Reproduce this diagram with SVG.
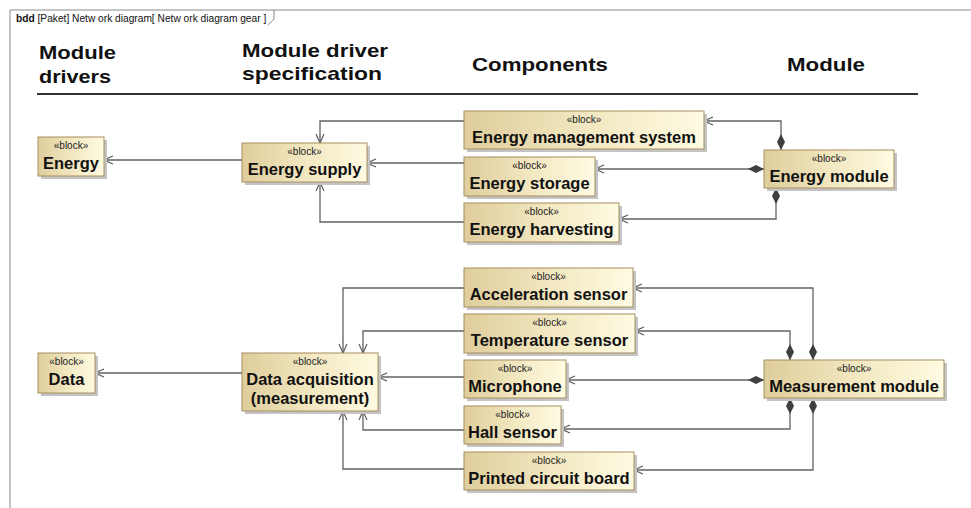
<svg xmlns="http://www.w3.org/2000/svg" width="971" height="508" viewBox="0 0 971 508">
<defs>
<linearGradient id="fillg" x1="0" y1="0" x2="1" y2="0">
<stop offset="0" stop-color="#dfcd9c"/>
<stop offset="0.55" stop-color="#f3e9c3"/>
<stop offset="1" stop-color="#fffbe2"/>
</linearGradient>
<marker id="arr" viewBox="0 0 10 10" refX="10" refY="5" markerWidth="10" markerHeight="10" markerUnits="userSpaceOnUse" orient="auto">
<path d="M1,1 L10,5 L1,9" fill="none" stroke="#5e5e5e" stroke-width="1.2"/>
</marker>
<marker id="dia" viewBox="0 0 16 8" refX="0" refY="4" markerWidth="16" markerHeight="8" markerUnits="userSpaceOnUse" orient="auto">
<path d="M0,4 L8,0 L16,4 L8,8 Z" fill="#3f3f3f"/>
</marker>
<style>
.frame{fill:none;stroke:#8a8a8a;stroke-width:1}
.tab{font-family:"Liberation Sans",Arial,sans-serif;font-size:10.2px;fill:#111}
.hdr{font-family:"Liberation Sans",Arial,sans-serif;font-size:19px;font-weight:bold;fill:#111}
.shadow{fill:#c4c4c4}
.box{fill:url(#fillg);stroke:#a68e5e;stroke-width:1}
.st{font-family:"Liberation Sans",Arial,sans-serif;font-size:10px;fill:#222;text-anchor:middle}
.nm{font-family:"Liberation Sans",Arial,sans-serif;font-size:16.5px;font-weight:bold;fill:#111;text-anchor:middle}
.c{fill:none;stroke:#616161;stroke-width:1.3}
.ca{marker-end:url(#arr)}
.cd{marker-start:url(#dia)}
</style>
</defs>
<rect x="0" y="0" width="971" height="508" fill="#ffffff"/>
<g id="frame">
<path class="frame" d="M10,508 V10 H971"/>
<path class="frame" d="M274,10 V19 L268,25"/>
<text class="tab" x="16" y="22"><tspan font-weight="bold">bdd</tspan> [Paket] Netw ork diagram[ Netw ork diagram gear ]</text>
</g>
<g id="headers">
<text class="hdr" x="39" y="59" textLength="77" lengthAdjust="spacingAndGlyphs">Module</text>
<text class="hdr" x="39" y="83" textLength="72" lengthAdjust="spacingAndGlyphs">drivers</text>
<text class="hdr" x="242" y="57" textLength="146" lengthAdjust="spacingAndGlyphs">Module driver</text>
<text class="hdr" x="242" y="80" textLength="140" lengthAdjust="spacingAndGlyphs">specification</text>
<text class="hdr" x="472" y="71" textLength="136" lengthAdjust="spacingAndGlyphs">Components</text>
<text class="hdr" x="787" y="71" textLength="78" lengthAdjust="spacingAndGlyphs">Module</text>
<line x1="37" y1="94" x2="918" y2="94" stroke="#333" stroke-width="2.2"/>
</g>
<g id="connectors">
<path class="c cd ca" d="M781,150 V121 H704"/>
<path class="c cd ca" d="M764,169 H595"/>
<path class="c cd ca" d="M776,188 V219 H619"/>
<path class="c ca" d="M464,121 H320 V143"/>
<path class="c ca" d="M464,163 H367"/>
<path class="c ca" d="M464,222 H320 V182"/>
<path class="c ca" d="M242,160 H104"/>
<path class="c cd ca" d="M813,360 V288 H633"/>
<path class="c cd ca" d="M790,360 V331 H635"/>
<path class="c cd ca" d="M764,380 H566"/>
<path class="c cd ca" d="M790,398 V429 H561"/>
<path class="c cd ca" d="M813,398 V470 H634"/>
<path class="c ca" d="M464,288 H343 V353"/>
<path class="c ca" d="M464,331 H363 V353"/>
<path class="c ca" d="M464,377 H378"/>
<path class="c ca" d="M464,430 H363 V411"/>
<path class="c ca" d="M464,469 H343 V411"/>
<path class="c ca" d="M242,373 H95"/>
</g>
<g id="energy">
<rect class="shadow" x="41" y="140" width="66" height="39"/>
<rect class="box" x="38" y="137" width="66" height="39"/>
<text class="st" x="71" y="149">«block»</text>
<text class="nm" x="71" y="169">Energy</text>
</g>
<g id="energy-supply">
<rect class="shadow" x="245" y="146" width="125" height="39"/>
<rect class="box" x="242" y="143" width="125" height="39"/>
<text class="st" x="304.5" y="155">«block»</text>
<text class="nm" x="304.5" y="175">Energy supply</text>
</g>
<g id="energy-management-system">
<rect class="shadow" x="467" y="114" width="240" height="38"/>
<rect class="box" x="464" y="111" width="240" height="38"/>
<text class="st" x="584" y="123">«block»</text>
<text class="nm" x="584" y="143">Energy management system</text>
</g>
<g id="energy-storage">
<rect class="shadow" x="467" y="160" width="131" height="39"/>
<rect class="box" x="464" y="157" width="131" height="39"/>
<text class="st" x="529.5" y="169">«block»</text>
<text class="nm" x="529.5" y="189">Energy storage</text>
</g>
<g id="energy-harvesting">
<rect class="shadow" x="467" y="206" width="155" height="39"/>
<rect class="box" x="464" y="203" width="155" height="39"/>
<text class="st" x="541.5" y="215">«block»</text>
<text class="nm" x="541.5" y="235">Energy harvesting</text>
</g>
<g id="energy-module">
<rect class="shadow" x="767" y="153" width="130" height="38"/>
<rect class="box" x="764" y="150" width="130" height="38"/>
<text class="st" x="829" y="162">«block»</text>
<text class="nm" x="829" y="182">Energy module</text>
</g>
<g id="data">
<rect class="shadow" x="41" y="356" width="57" height="40"/>
<rect class="box" x="38" y="353" width="57" height="40"/>
<text class="st" x="66.5" y="365">«block»</text>
<text class="nm" x="66.5" y="385">Data</text>
</g>
<g id="data-acquisition">
<rect class="shadow" x="245" y="356" width="136" height="58"/>
<rect class="box" x="242" y="353" width="136" height="58"/>
<text class="st" x="310" y="365">«block»</text>
<text class="nm" x="310" y="385">Data acquisition</text>
<text class="nm" x="310" y="404">(measurement)</text>
</g>
<g id="acceleration-sensor">
<rect class="shadow" x="467" y="271" width="169" height="39"/>
<rect class="box" x="464" y="268" width="169" height="39"/>
<text class="st" x="548.5" y="280">«block»</text>
<text class="nm" x="548.5" y="300">Acceleration sensor</text>
</g>
<g id="temperature-sensor">
<rect class="shadow" x="467" y="317" width="171" height="39"/>
<rect class="box" x="464" y="314" width="171" height="39"/>
<text class="st" x="549.5" y="326">«block»</text>
<text class="nm" x="549.5" y="346">Temperature sensor</text>
</g>
<g id="microphone">
<rect class="shadow" x="467" y="363" width="102" height="38"/>
<rect class="box" x="464" y="360" width="102" height="38"/>
<text class="st" x="515" y="372">«block»</text>
<text class="nm" x="515" y="392">Microphone</text>
</g>
<g id="hall-sensor">
<rect class="shadow" x="467" y="409" width="97" height="38"/>
<rect class="box" x="464" y="406" width="97" height="38"/>
<text class="st" x="512.5" y="418">«block»</text>
<text class="nm" x="512.5" y="438">Hall sensor</text>
</g>
<g id="printed-circuit-board">
<rect class="shadow" x="467" y="455" width="170" height="38"/>
<rect class="box" x="464" y="452" width="170" height="38"/>
<text class="st" x="549" y="464">«block»</text>
<text class="nm" x="549" y="484">Printed circuit board</text>
</g>
<g id="measurement-module">
<rect class="shadow" x="767" y="363" width="180" height="38"/>
<rect class="box" x="764" y="360" width="180" height="38"/>
<text class="st" x="854" y="372">«block»</text>
<text class="nm" x="854" y="392">Measurement module</text>
</g>
</svg>
